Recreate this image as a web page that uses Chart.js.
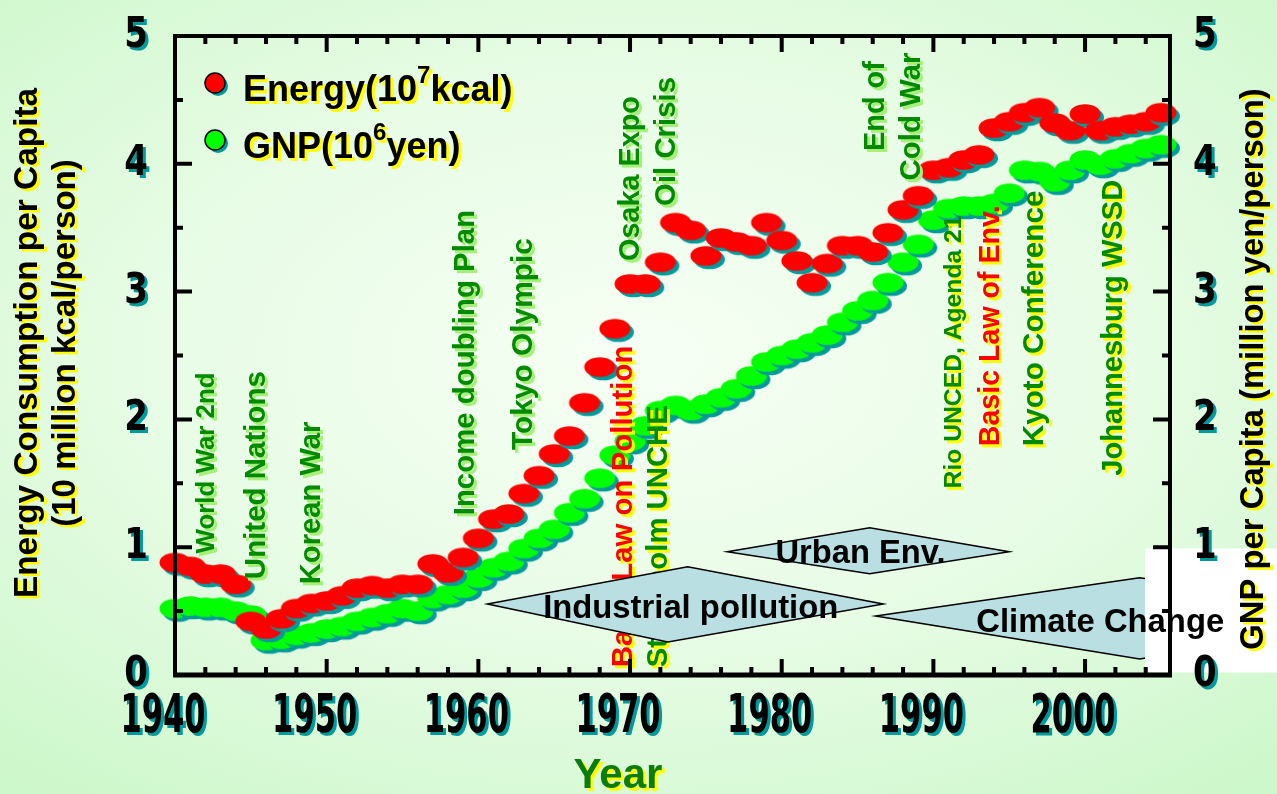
<!DOCTYPE html>
<html>
<head>
<meta charset="utf-8">
<script src="https://cdn.jsdelivr.net/npm/chart.js@4.4.0/dist/chart.umd.min.js"></script>
<style>
  html, body { margin: 0; padding: 0; width: 1277px; height: 794px; overflow: hidden; }
  body { background: radial-gradient(ellipse 75% 70% at 50% 45%, #f6fff4 0%, #e8fce6 50%, #cdf8cb 100%); }
  #wrap { position: relative; width: 1277px; height: 794px; }
</style>
</head>
<body>
<div id="wrap"><canvas id="chart" width="1277" height="794"></canvas></div>
<script>
// ---- data ----
const years = [1940,1941,1942,1943,1944,1945,1946,1947,1948,1949,
               1950,1951,1952,1953,1954,1955,1956,1957,1958,1959,
               1960,1961,1962,1963,1964,1965,1966,1967,1968,1969,
               1970,1971,1972,1973,1974,1975,1976,1977,1978,1979,
               1980,1981,1982,1983,1984,1985,1986,1987,1988,1989,
               1990,1991,1992,1993,1994,1995,1996,1997,1998,1999,
               2000,2001,2002,2003,2004,2005];
const energy = [0.88,0.85,0.79,0.79,0.71,0.42,0.36,0.44,0.52,0.56,
                0.58,0.62,0.68,0.70,0.68,0.71,0.71,0.87,0.80,0.92,
                1.07,1.22,1.26,1.42,1.56,1.73,1.87,2.13,2.41,2.71,
                3.06,3.06,3.23,3.54,3.48,3.28,3.42,3.39,3.36,3.54,
                3.40,3.24,3.07,3.22,3.36,3.36,3.31,3.46,3.64,3.75,
                3.95,3.97,4.03,4.07,4.28,4.33,4.40,4.44,4.32,4.26,
                4.39,4.26,4.29,4.31,4.33,4.40];
const gnp = [0.52,0.54,0.53,0.53,0.50,0.47,0.27,0.28,0.31,0.33,
             0.36,0.38,0.42,0.45,0.48,0.52,0.50,0.60,0.63,0.68,
             0.76,0.84,0.89,0.99,1.07,1.14,1.27,1.38,1.54,1.72,
             1.83,1.95,2.07,2.11,2.07,2.12,2.17,2.24,2.34,2.45,
             2.50,2.55,2.60,2.66,2.76,2.85,2.93,3.07,3.23,3.37,
             3.56,3.65,3.67,3.67,3.69,3.77,3.95,3.94,3.86,3.95,
             4.03,3.99,4.04,4.08,4.12,4.15];
const xTickLabels = [1940,1950,1960,1970,1980,1990,2000];
const yTickLabels = [0,1,2,3,4,5];

// event labels: text, year / value at the bottom end of the vertical text, length in px
const events = [
  ['World War 2nd',          1942.1, 0.95, 181, '#008a00', '#a6f07a'],
  ['United Nations',         1945.4, 0.75, 208, '#008a00', '#a6f07a'],
  ['Korean War',             1949.0, 0.71, 163, '#008a00', '#a6f07a'],
  ['Income doubling Plan',   1959.2, 1.25, 305, '#008a00', '#a6f07a'],
  ['Tokyo Olympic',          1963.0, 1.76, 212, '#008a00', '#a6f07a'],
  ['Basic Law on Pollution', 1969.6, 0.06, 322, '#ff0000', '#ffff00'],
  ['Stockholm UNCHE',        1971.9, 0.06, 262, '#008a00', '#ffff00'],
  ['Osaka Expo',             1970.1, 3.24, 165, '#008a00', '#a6f07a'],
  ['Oil Crisis',             1972.4, 3.67, 129, '#008a00', '#a6f07a'],
  ['End of',                 1986.2, 4.10,  90, '#008a00', '#a6f07a'],
  ['Cold War',               1988.6, 3.87, 128, '#008a00', '#a6f07a'],
  ['Rio UNCED, Agenda 21',   1991.4, 1.46, 273, '#008a00', '#ffff00'],
  ['Basic Law of Env.',      1993.8, 1.79, 241, '#ff0000', '#ffff00'],
  ['Kyoto Conference',       1996.7, 1.79, 256, '#008a00', '#ffff00'],
  ['Johannesburg WSSD',      2001.9, 1.56, 296, '#008a00', '#ffff00']
];

// era diamonds: label, label centre, label length, then left / top / right / bottom corners in (year, value)
const eras = [
  ['Industrial pollution', [1974.0, 0.52], 295, [[1960.6,0.556],[1973.8,0.846],[1986.7,0.556],[1972.5,0.259]]],
  ['Urban Env.',           [1985.2, 0.95], 170, [[1976.4,0.964],[1985.8,1.152],[1995.0,0.964],[1985.8,0.792]]],
  ['Climate Change',       [2001.0, 0.41], 248, [[1986.2,0.462],[2003.6,0.760],[2021.0,0.462],[2003.6,0.125]]]
];

function makeDot(color) {
  const c = document.createElement('canvas');
  c.width = 44; c.height = 32;
  const g = c.getContext('2d');
  g.fillStyle = '#009a9a';
  g.beginPath(); g.ellipse(25.5, 19.5, 15.5, 9.8, 0, 0, Math.PI * 2); g.fill();
  g.fillStyle = color;
  g.beginPath(); g.ellipse(22, 16, 15.5, 9.8, 0, 0, Math.PI * 2); g.fill();
  return c;
}

const SANS = '"Liberation Sans", Arial, sans-serif';
const NARROW = '"Liberation Sans Narrow", "DejaVu Sans Condensed", sans-serif';

function fitSize(ctx, text, len) {
  ctx.font = 'bold 100px ' + SANS;
  return 100 * len / ctx.measureText(text).width;
}

function vText(ctx, text, x, y, color, shadow, off) {
  [[shadow, off], [color, 0]].forEach(([c, o]) => {
    ctx.save();
    ctx.translate(x + o, y + o);
    ctx.rotate(-Math.PI / 2);
    ctx.fillStyle = c;
    ctx.fillText(text, 0, 0);
    ctx.restore();
  });
}

function hText(ctx, text, x, y, color, shadow, off) {
  if (shadow) { ctx.fillStyle = shadow; ctx.fillText(text, x + off, y + off); }
  ctx.fillStyle = color; ctx.fillText(text, x, y);
}

function narrowNum(ctx, text, x, y, size, sx, align) {
  ctx.font = 'bold ' + size + 'px ' + NARROW;
  const w = ctx.measureText(text).width * sx;
  let left = align === 'center' ? x - w / 2 : align === 'right' ? x - w : x;
  [['#009a9a', 3], ['#000000', 0]].forEach(([c, o]) => {
    ctx.save();
    ctx.translate(left + o, y + o);
    ctx.scale(sx, 1);
    ctx.fillStyle = c;
    ctx.textAlign = 'left';
    ctx.textBaseline = 'middle';
    ctx.fillText(text, 0, 0);
    ctx.restore();
  });
}

const decor = {
  id: 'decor',
  afterDraw(chart) {
    const ctx = chart.ctx;
    const xs = chart.scales.x, ys = chart.scales.y, ys2 = chart.scales.y2;
    const a = chart.chartArea;
    ctx.save();

    // event labels
    events.forEach(([t, yr, v, len, col, sh]) => {
      const size = fitSize(ctx, t, len);
      ctx.font = 'bold ' + size.toFixed(1) + 'px ' + SANS;
      ctx.textAlign = 'left';
      ctx.textBaseline = 'middle';
      vText(ctx, t, xs.getPixelForValue(yr), ys.getPixelForValue(v), col, sh, 3);
    });

    // era diamonds
    eras.forEach(([label, c, len, pts], i) => {
      ctx.beginPath();
      pts.forEach(([px, py], j) => {
        const X = xs.getPixelForValue(px), Y = ys.getPixelForValue(py);
        if (j === 0) ctx.moveTo(X, Y); else ctx.lineTo(X, Y);
      });
      ctx.closePath();
      ctx.fillStyle = '#badfe3';
      ctx.fill();
      ctx.lineWidth = 1.5;
      ctx.strokeStyle = '#000';
      ctx.stroke();
      if (i === 2) {
        // white patch on the right
        ctx.fillStyle = '#ffffff';
        ctx.fillRect(1145, ys.getPixelForValue(0.99), 140, ys.getPixelForValue(0.02) - ys.getPixelForValue(0.99));
      }
      const s = fitSize(ctx, label, len);
      ctx.font = 'bold ' + s.toFixed(1) + 'px ' + SANS;
      ctx.textAlign = 'center';
      ctx.textBaseline = 'middle';
      ctx.fillStyle = '#000';
      ctx.fillText(label, xs.getPixelForValue(c[0]), ys.getPixelForValue(c[1]));
    });

    // frame
    ctx.strokeStyle = '#000';
    ctx.lineCap = 'butt';
    ctx.lineWidth = 4;
    ctx.beginPath();
    ctx.moveTo(a.left, a.top); ctx.lineTo(a.right, a.top);
    ctx.moveTo(a.right, a.top - 2); ctx.lineTo(a.right, a.bottom + 2);
    ctx.moveTo(a.left, a.top - 2); ctx.lineTo(a.left, a.bottom + 2);
    ctx.stroke();
    ctx.lineWidth = 5;
    ctx.beginPath(); ctx.moveTo(a.left - 2, a.bottom); ctx.lineTo(a.right + 2, a.bottom); ctx.stroke();

    // ticks
    ctx.lineWidth = 4;
    ctx.beginPath();
    for (let yr = 1942; yr <= 2004; yr += 2) {
      const X = xs.getPixelForValue(yr), len = yr % 10 === 0 ? 16 : 8;
      ctx.moveTo(X, a.bottom); ctx.lineTo(X, a.bottom - len);
      ctx.moveTo(X, a.top); ctx.lineTo(X, a.top + len);
    }
    for (let v = 0.5; v < 5; v += 0.5) {
      const Y = ys.getPixelForValue(v), len = v % 1 === 0 ? 17 : 8;
      ctx.moveTo(a.left, Y); ctx.lineTo(a.left + len, Y);
      ctx.moveTo(a.right, Y); ctx.lineTo(a.right - len, Y);
    }
    ctx.stroke();

    // tick labels
    xTickLabels.forEach(v => narrowNum(ctx, String(v), xs.getPixelForValue(v) - 12, 718, 54, 0.63, 'center'));
    yTickLabels.forEach(v => {
      narrowNum(ctx, String(v), 148, ys.getPixelForValue(v), 42, 0.9, 'right');
      narrowNum(ctx, String(v), 1193, ys2.getPixelForValue(v), 42, 0.9, 'left');
    });

    // axis titles
    ctx.textAlign = 'center';
    ctx.textBaseline = 'middle';
    let s = fitSize(ctx, 'Energy Consumption per Capita', 510);
    ctx.font = 'bold ' + s.toFixed(1) + 'px ' + SANS;
    vText(ctx, 'Energy Consumption per Capita', 28, 343, '#000', '#ffff00', 2.5);
    s = fitSize(ctx, '(10 million kcal/person)', 368);
    ctx.font = 'bold ' + s.toFixed(1) + 'px ' + SANS;
    vText(ctx, '(10 million kcal/person)', 66, 343, '#000', '#ffff00', 2.5);
    s = fitSize(ctx, 'GNP per Capita (million yen/person)', 562);
    ctx.font = 'bold ' + s.toFixed(1) + 'px ' + SANS;
    vText(ctx, 'GNP per Capita (million yen/person)', 1254, 369, '#000', '#ffff00', 2.5);
    ctx.font = 'bold 42px ' + SANS;
    hText(ctx, 'Year', 618, 776, '#0a7d0a', '#ffff00', 3);

    // legend
    const leg = [['#ff0000', 'Energy(10', '7', 'kcal)', 83], ['#00ff00', 'GNP(10', '6', 'yen)', 140]];
    leg.forEach(([col, t1, sup, t2, y]) => {
      ctx.fillStyle = '#009a9a';
      ctx.beginPath(); ctx.arc(218, y + 3, 10, 0, Math.PI * 2); ctx.fill();
      ctx.fillStyle = col;
      ctx.beginPath(); ctx.arc(215, y, 10, 0, Math.PI * 2); ctx.fill();
      ctx.lineWidth = 1.5; ctx.strokeStyle = '#000'; ctx.stroke();
      ctx.textAlign = 'left';
      ctx.textBaseline = 'alphabetic';
      let x = 243;
      const base = y + 18;
      ctx.font = 'bold 36px ' + SANS;
      hText(ctx, t1, x, base, '#000', '#ffff00', 3);
      x += ctx.measureText(t1).width;
      ctx.font = 'bold 24px ' + SANS;
      hText(ctx, sup, x, base - 18, '#000', '#ffff00', 3);
      x += ctx.measureText(sup).width;
      ctx.font = 'bold 36px ' + SANS;
      hText(ctx, t2, x, base, '#000', '#ffff00', 3);
    });
    ctx.restore();
  }
};

const ctx = document.getElementById('chart').getContext('2d');
new Chart(ctx, {
  type: 'scatter',
  data: {
    datasets: [
      {
        label: 'Energy(10^7kcal)',
        data: years.map((y, i) => ({ x: y, y: energy[i] })),
        yAxisID: 'y',
        pointStyle: makeDot('#ff0000'),
        pointRadius: 15,
        clip: false
      },
      {
        label: 'GNP(10^6yen)',
        data: years.map((y, i) => ({ x: y, y: gnp[i] })),
        yAxisID: 'y2',
        pointStyle: makeDot('#00ff00'),
        pointRadius: 15,
        clip: false
      }
    ]
  },
  options: {
    responsive: false,
    animation: false,
    events: [],
    layout: { padding: { top: 36, left: 0, right: 0, bottom: 0 } },
    plugins: { legend: { display: false }, tooltip: { enabled: false } },
    scales: {
      x: {
        type: 'linear', min: 1940, max: 2005.6,
        grid: { display: false }, border: { display: false }, ticks: { display: false },
        afterFit: s => { s.height = 119; }
      },
      y: {
        min: 0, max: 5, position: 'left',
        grid: { display: false }, border: { display: false }, ticks: { display: false },
        afterFit: s => { s.width = 175; }
      },
      y2: {
        min: 0, max: 5, position: 'right',
        grid: { display: false }, border: { display: false }, ticks: { display: false },
        afterFit: s => { s.width = 107; }
      }
    }
  },
  plugins: [decor]
});
</script>
</body>
</html>
